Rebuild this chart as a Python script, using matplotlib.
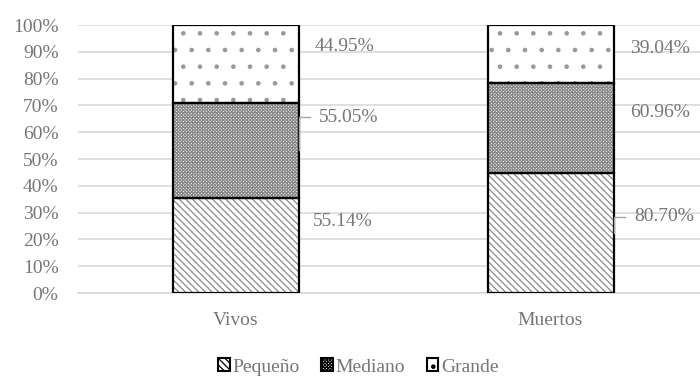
import matplotlib
matplotlib.use("Agg")
import matplotlib.pyplot as plt
from matplotlib.patches import Patch
import numpy as np

# ---- data ----
categories = ["Vivos", "Muertos"]
series_names = ["Pequeño", "Mediano", "Grande"]
pequeno = [55.14, 80.70]
mediano = [55.05, 60.96]
grande = [44.95, 39.04]
yticks = [0, 10, 20, 30, 40, 50, 60, 70, 80, 90, 100]

# ---- style ----
plt.rcParams['font.family'] = ['Liberation Serif', 'DejaVu Serif']
plt.rcParams['hatch.linewidth'] = 0.9
TXT = '#767676'
GRID = '#d9d9d9'
FS = 14
hatches = ['\\' * 5, 'x' * 10, '.']
hatch_cols = ['#8a8a8a', '#8a8a8a', '#9a9a9a']

fig = plt.figure(figsize=(7.0, 3.76), dpi=100)
ax = fig.add_axes([78/700, (376-293)/376, 630/700, 268/376])

raw = np.array([pequeno, mediano, grande])
pct = raw / raw.sum(axis=0) * 100
x = np.arange(len(categories))
w = 0.40

bottom = np.zeros(len(categories))
for i, name in enumerate(series_names):
    ax.bar(x, pct[i], w, bottom=bottom, color='white', edgecolor=hatch_cols[i],
           linewidth=0, hatch=hatches[i], zorder=2)
    ax.bar(x, pct[i], w, bottom=bottom, fill=False, edgecolor='black',
           linewidth=1.6, zorder=3)
    bottom += pct[i]

# data labels (value = raw series value), positioned to the right of bars
label_pos = {  # (series idx, cat idx): (x offset in category units, y in %)
    (2, 0): (0.052, 91.8), (1, 0): (0.065, 65.5), (0, 0): (0.045, 26.5),
    (2, 1): (0.054, 91.4), (1, 1): (0.054, 67.2), (0, 1): (0.066, 28.4),
}
for (si, ci), (dx, yy) in label_pos.items():
    ax.text(x[ci] + w/2 + dx, yy, f"{raw[si][ci]:.2f}%", color=TXT, fontsize=FS,
            va='center', ha='left', zorder=4)

# leader lines
leaders = [(1, 0, 65.7), (0, 1, 28.4)]
for si, ci, yl in leaders:
    mid = pct[:si, ci].sum() + pct[si, ci] / 2
    xe = x[ci] + w/2
    ax.plot([xe, xe, xe + 0.038], [mid, yl, yl], color='#a6a6a6', lw=1.0,
            zorder=4, clip_on=False)

ax.set_xlim(-0.5, 1.5)
ax.set_ylim(0, 100)
ax.set_yticks(yticks)
ax.set_yticklabels([f"{t}%" for t in yticks])
ax.set_xticks(x)
ax.set_xticklabels(categories)
ax.yaxis.grid(True, color=GRID, lw=1.2, zorder=0)
ax.set_axisbelow(True)
for s in ['top', 'right', 'left']:
    ax.spines[s].set_visible(False)
ax.spines['bottom'].set_color(GRID)
ax.spines['bottom'].set_linewidth(1.2)
ax.tick_params(axis='both', length=0, colors=TXT, labelsize=FS)
ax.tick_params(axis='y', pad=14)
ax.tick_params(axis='x', pad=14)

handles = [Patch(facecolor='white', edgecolor='black', hatch=hatches[i], lw=1.5)
           for i in range(3)]
fig.legend(handles, series_names, loc='center', bbox_to_anchor=(0.512, 1 - 367/376),
           ncol=3, frameon=False, fontsize=FS, labelcolor=TXT,
           handlelength=0.6, handleheight=0.6, handletextpad=0.15, columnspacing=1.1)

fig.savefig("out.png", dpi=100)
